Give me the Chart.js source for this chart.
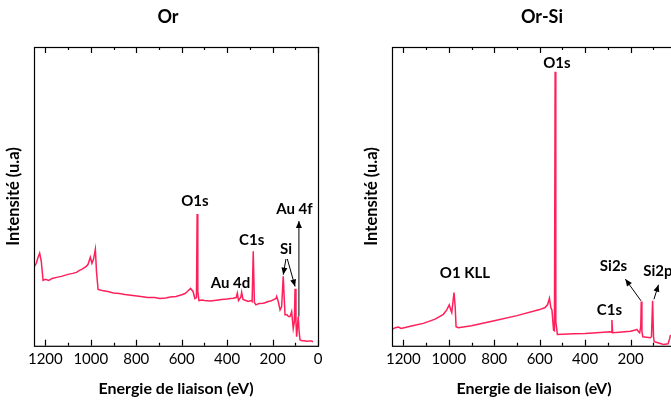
<!DOCTYPE html>
<html>
<head>
<meta charset="utf-8">
<script src="https://cdn.jsdelivr.net/npm/chart.js@4.4.1/dist/chart.umd.min.js"></script>
<style>
  html, body { margin: 0; padding: 0; width: 671px; height: 400px; overflow: hidden; background: #fff; }
  .panel { position: absolute; top: 0; width: 340px; height: 400px; }
  #left { left: 0; }
  #right { left: 358px; }
</style>
</head>
<body>
<div class="panel" id="left"><canvas id="chart-or" width="340" height="400"></canvas></div>
<div class="panel" id="right"><canvas id="chart-orsi" width="340" height="400"></canvas></div>
<script>
// x tick labels (binding energy, eV)
const xTicks = [1200, 1000, 800, 600, 400, 200, 0];

// spectrum "Or" : binding energy (eV) / intensity (a.u.)
const energyOr = [1250, 1245, 1240, 1232, 1225, 1218, 1210, 1200, 1185, 1170, 1150, 1130, 1100, 1080, 1063, 1050, 1040, 1020, 1012,
  1002, 995, 988, 980, 975, 968, 950, 925, 900, 875, 850, 815, 780, 750, 720, 696, 670, 650, 625, 600, 585, 575, 561, 550, 542,
  535, 532, 529, 524, 510, 500, 475, 447, 425, 400, 385, 373, 360, 355, 350, 344, 340, 336, 330, 318, 307, 295, 290, 285, 280,
  273, 260, 241, 230, 220, 208, 197, 185, 182, 175, 167, 160, 153, 148, 145, 137, 130, 123, 116, 109, 104, 101, 97, 94, 87,
  83, 79, 70, 60, 50, 40, 28, 22];
const intensityOr = [79, 80, 82, 88, 92, 84, 65, 66, 65, 67, 68, 69, 71, 72, 73, 75, 76, 79, 81,
  88, 82, 86, 96, 74, 56, 55, 54, 52.5, 52, 51, 50, 49, 48, 48, 47, 47.5, 48.5, 49, 50.7, 52, 54, 57, 54, 47,
  48, 131, 54, 45, 45.5, 45, 44.5, 45.3, 46, 46.5, 47, 47.3, 48, 52.3, 45, 47, 48, 53.3, 46, 45, 44, 45, 44, 94, 43,
  40.7, 42, 42.3, 43, 44, 44.5, 45.7, 47, 49, 44, 35.7, 39, 69, 44, 30.7, 31, 29, 29, 34, 17.3, 24, 56.7, 24, 9, 29,
  14, 5.7, 5, 5, 4.5, 4.8, 4.7, 4];

// spectrum "Or-Si"
const energyOrSi = [1250, 1235, 1222, 1210, 1160, 1112, 1060, 1024, 1009, 998, 992, 987, 977, 972, 968, 958, 900, 800, 700,
  600, 576, 565, 557, 551, 546, 539, 535, 532, 529, 522, 450, 400, 350, 290, 285, 282, 279, 250, 200, 179, 172, 165, 160,
  155, 153, 150, 146, 130, 113, 108, 103, 99, 96, 80, 55, 35, 28, 25, 15, 5];
const intensityOrSi = [16.3, 18, 18.7, 17.3, 20, 22.3, 26.5, 31.3, 35.7, 40.7, 36, 33, 53, 39, 19, 18, 20, 25, 30,
  36, 38, 41, 47.3, 38, 35.7, 15.7, 15, 272.3, 24, 11.3, 12, 12.3, 13, 14, 13.5, 25.7, 13, 13.5, 14.5, 15.7, 16.3, 14, 13,
  19, 44, 14, 9, 8.5, 8, 9, 44.7, 9, 4, 3, 1.3, 2, 7, 10, 11, 11];

// peak labels [text, energy, intensity]
const labelsOr = [['O1s', 542, 144], ['C1s', 292, 104.7], ['Au 4d', 385, 62.3], ['Si', 141, 95.7], ['Au 4f', 104, 135.7]];
const arrowsOr = [[141, 86.3, 153, 70.7], [135, 86.3, 101, 59], [84, 29, 84, 124]];
const labelsOrSi = [['O1s', 524, 280.7], ['O1 KLL', 929, 72.3], ['C1s', 293, 35.7], ['Si2s', 275, 79], ['Si2p', 80, 74]];
const arrowsOrSi = [[154, 44.7, 223, 66.3], [97, 46.3, 77, 60.7]];

const FONT = 'Lato, "Open Sans", sans-serif';
const LINE = '#ff1f5a';

const framePlugin = {
  id: 'frame',
  afterDraw(chart, args, opts) {
    const { ctx, chartArea: a, scales } = chart;
    const x = scales.x, y = scales.y;
    ctx.save();
    ctx.strokeStyle = '#000';
    ctx.lineWidth = 1.2;
    ctx.strokeRect(a.left + 0.5, a.top + 0.5, a.right - a.left, a.bottom - a.top);
    // inward ticks on top and bottom
    for (let v = 0; v <= 1200; v += 100) {
      const px = Math.round(x.getPixelForValue(v)) + 0.5;
      const len = v % 200 === 0 ? 6 : 3;
      ctx.beginPath();
      ctx.moveTo(px, a.bottom); ctx.lineTo(px, a.bottom - len);
      ctx.moveTo(px, a.top); ctx.lineTo(px, a.top + len);
      ctx.stroke();
    }
    // title
    ctx.fillStyle = '#000';
    ctx.textAlign = 'center';
    ctx.textBaseline = 'middle';
    ctx.font = 'bold 18px ' + FONT;
    ctx.fillText(opts.title, (a.left + a.right) / 2 + opts.titleDx, 17);
    // y axis label
    ctx.save();
    ctx.translate(a.left - 20, (a.top + a.bottom) / 2);
    ctx.rotate(-Math.PI / 2);
    ctx.font = 'bold 16.5px ' + FONT;
    ctx.fillText('Intensité (u.a)', 0, 0);
    ctx.restore();
    // peak labels
    ctx.font = 'bold 15px ' + FONT;
    opts.labels.forEach(([t, e, i]) => ctx.fillText(t, x.getPixelForValue(e), y.getPixelForValue(i)));
    // arrows
    ctx.lineWidth = 1;
    opts.arrows.forEach(([e0, i0, e1, i1]) => {
      const x0 = x.getPixelForValue(e0), y0 = y.getPixelForValue(i0);
      const x1 = x.getPixelForValue(e1), y1 = y.getPixelForValue(i1);
      const ang = Math.atan2(y1 - y0, x1 - x0);
      ctx.beginPath(); ctx.moveTo(x0, y0); ctx.lineTo(x1, y1); ctx.stroke();
      ctx.beginPath();
      ctx.moveTo(x1, y1);
      ctx.lineTo(x1 - 7 * Math.cos(ang) + 3 * Math.sin(ang), y1 - 7 * Math.sin(ang) - 3 * Math.cos(ang));
      ctx.lineTo(x1 - 7 * Math.cos(ang) - 3 * Math.sin(ang), y1 - 7 * Math.sin(ang) + 3 * Math.cos(ang));
      ctx.closePath(); ctx.fill();
    });
    ctx.restore();
  }
};

function makeSpectrum(id, energy, intensity, title, titleDx, labels, arrows) {
  const canvas = document.getElementById(id);
  const points = energy.map((e, k) => ({ x: e, y: intensity[k] }));
  return new Chart(canvas.getContext('2d'), {
    type: 'line',
    data: { datasets: [{ data: points, borderColor: LINE, borderWidth: 1.5, pointRadius: 0, tension: 0 }] },
    options: {
      responsive: false,
      animation: false,
      layout: { padding: { left: 34, right: 22, top: 47, bottom: 0 } },
      plugins: {
        legend: { display: false },
        tooltip: { enabled: false },
        frame: { title, titleDx, labels, arrows }
      },
      scales: {
        x: {
          type: 'linear', reverse: true, min: 0, max: 1250,
          grid: { display: false, drawTicks: false },
          border: { display: false },
          afterBuildTicks: (s) => { s.ticks = xTicks.map((v) => ({ value: v })); },
          ticks: { padding: 4, maxRotation: 0, color: '#000', font: { family: FONT, size: 15 },
            callback: (v) => String(v) },
          title: { display: true, text: 'Energie de liaison (eV)', color: '#000',
            font: { family: FONT, size: 16, weight: 'bold' }, padding: { top: 7, bottom: 2 } }
        },
        y: { display: false, min: 0, max: 297 }
      }
    },
    plugins: [framePlugin]
  });
}

makeSpectrum('chart-or', energyOr, intensityOr, 'Or', -8, labelsOr, arrowsOr);
makeSpectrum('chart-orsi', energyOrSi, intensityOrSi, 'Or-Si', 8, labelsOrSi, arrowsOrSi);
</script>
</body>
</html>
